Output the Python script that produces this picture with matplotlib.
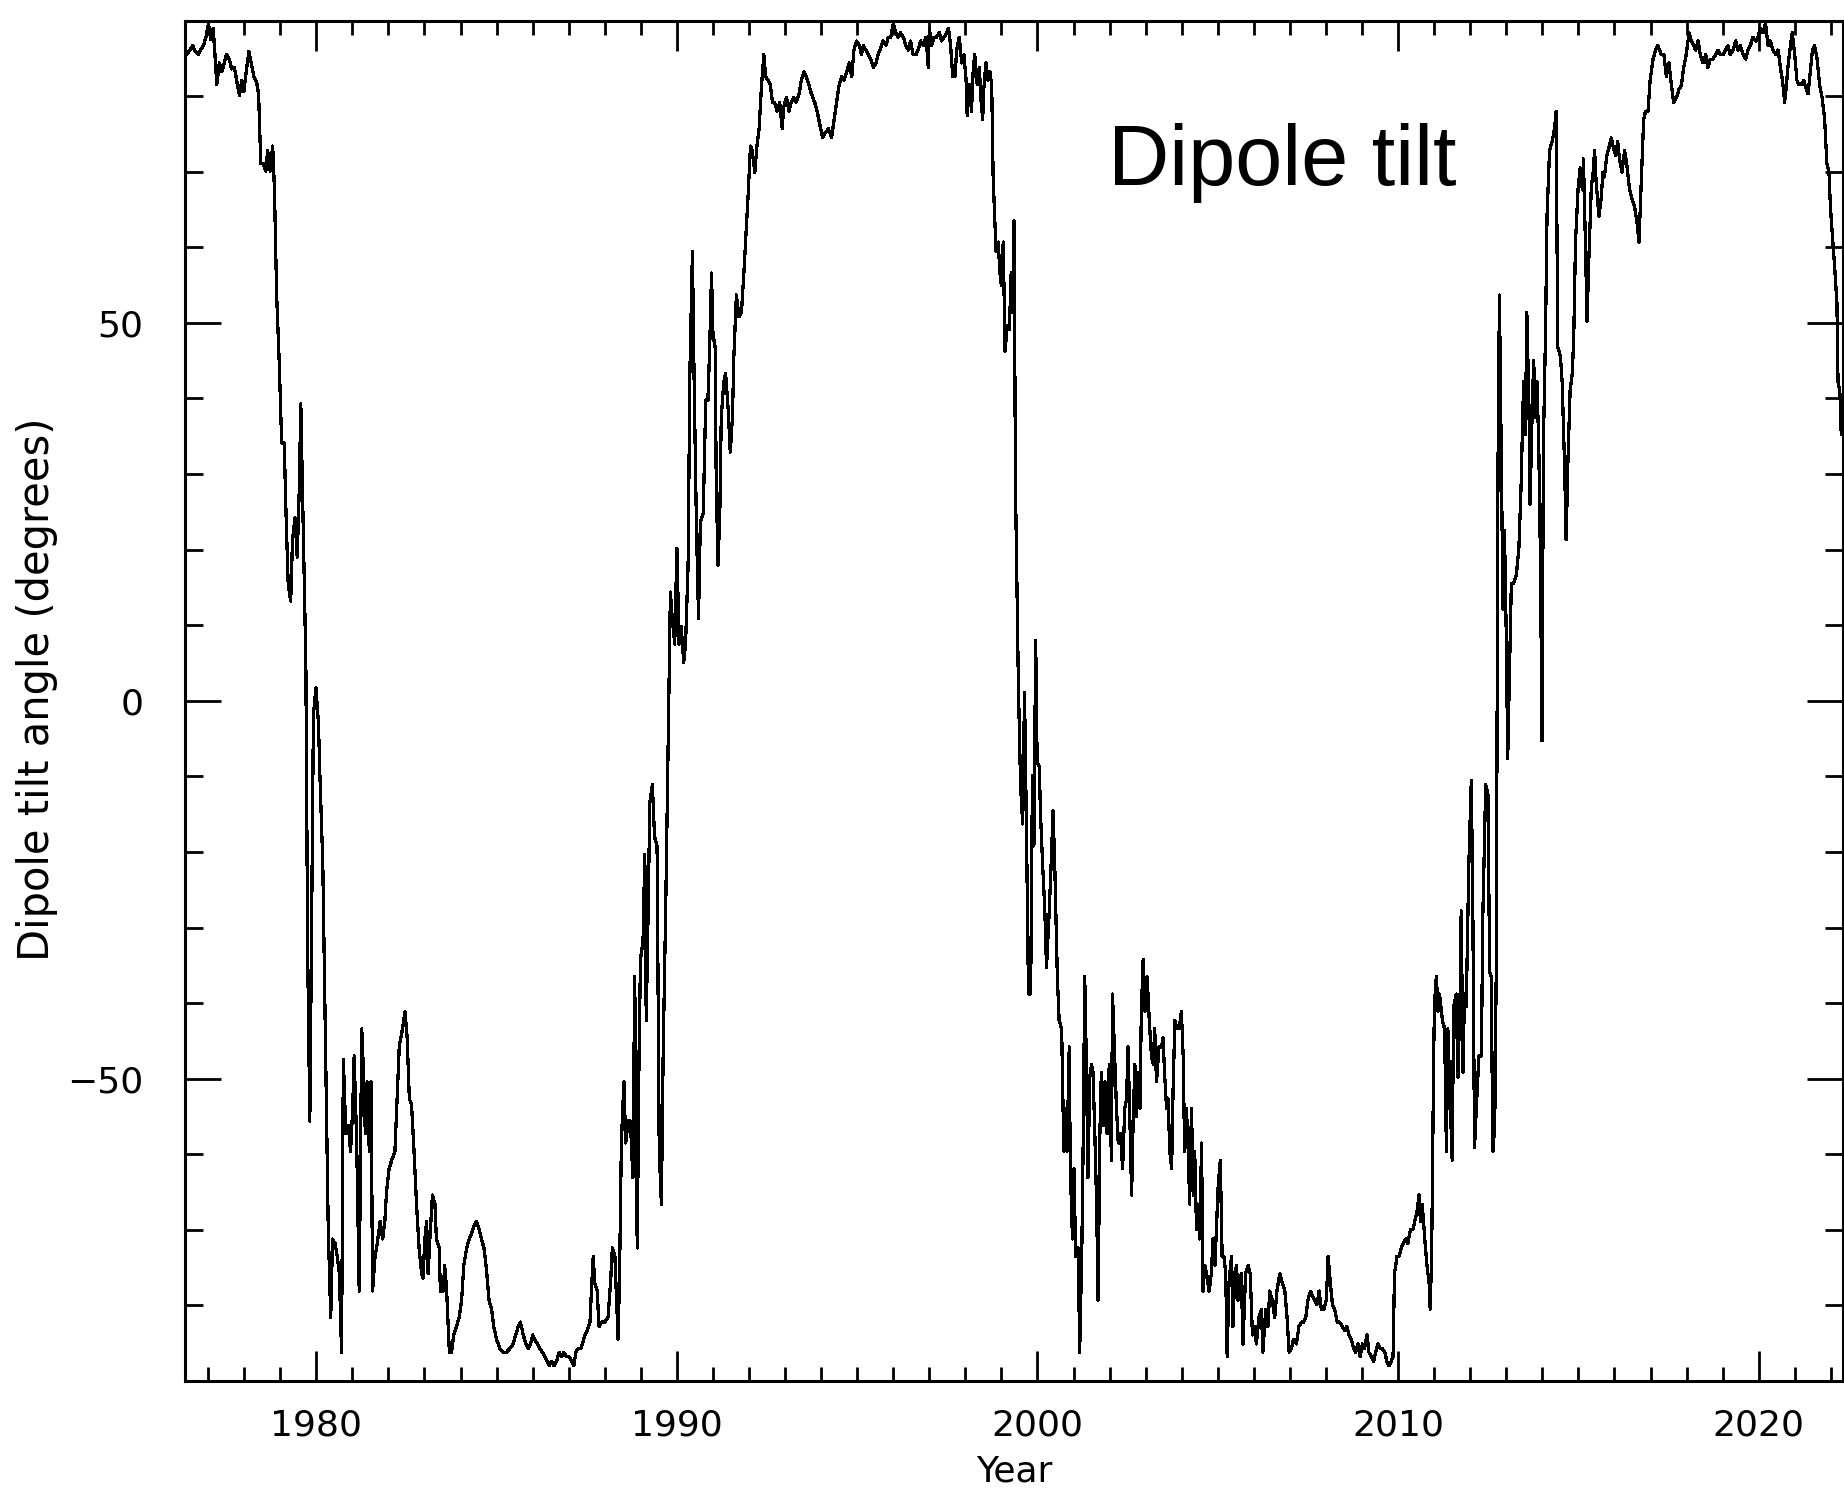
import numpy as np
import matplotlib
matplotlib.use("Agg")
import matplotlib.pyplot as plt
from matplotlib.ticker import MultipleLocator

# Dipole tilt angle of the solar magnetic field (degrees), one sample per
# Carrington rotation, grouped by span of years.
years_1976 = [1976.40, 1976.50, 1976.57, 1976.64, 1976.73, 1976.79, 1976.87, 1976.94,
              1977.01, 1977.07, 1977.14, 1977.19, 1977.24, 1977.31, 1977.38, 1977.45,
              1977.51, 1977.59, 1977.65, 1977.73, 1977.79, 1977.87, 1977.93, 1977.99,
              1978.07, 1978.13, 1978.21, 1978.27, 1978.35, 1978.40, 1978.46, 1978.53,
              1978.60, 1978.65, 1978.72, 1978.79, 1978.84, 1978.90, 1978.97, 1979.04,
              1979.11, 1979.16, 1979.22, 1979.29, 1979.34, 1979.41, 1979.47, 1979.53,
              1979.57, 1979.64, 1979.71, 1979.76, 1979.82, 1979.87, 1979.92, 1979.99,
              1980.06, 1980.10, 1980.18, 1980.24, 1980.33, 1980.40, 1980.45, 1980.52,
              1980.58, 1980.64, 1980.70, 1980.75, 1980.82, 1980.89, 1980.95, 1981.01,
              1981.05, 1981.12, 1981.19, 1981.26, 1981.30, 1981.36, 1981.41, 1981.47,
              1981.52, 1981.56, 1981.63, 1981.69, 1981.77, 1981.84, 1981.90, 1981.95,
              1982.02, 1982.09, 1982.18, 1982.23, 1982.30]
tilt_1976 = [85.5, 86.1, 86.7, 85.9, 85.5, 86.1, 86.7, 87.8,
             89.6, 87.5, 89.0, 85.5, 81.5, 84.4, 83.2, 84.4,
             85.5, 84.9, 83.6, 83.8, 82.1, 80.1, 82.1, 80.6,
             83.8, 85.9, 84.0, 82.6, 81.7, 80.3, 71.1, 71.1,
             70.1, 72.8, 70.1, 73.4, 67.6, 53.7, 45.0, 34.1,
             34.1, 24.8, 15.5, 13.2, 21.3, 24.2, 19.0, 28.3,
             39.3, 22.5, 5.1, -33.0, -55.6, -29.6, -1.8, 1.7,
             -3.0, -9.9, -21.5, -40.6, -69.5, -81.6, -71.2, -71.8,
             -73.5, -75.8, -86.2, -47.5, -57.3, -56.2, -59.6, -53.9,
             -47.0, -58.5, -78.1, -43.4, -48.1, -57.3, -50.4, -59.6,
             -50.4, -78.1, -73.5, -71.8, -68.9, -71.2, -68.9, -64.8,
             -61.9, -60.8, -59.6, -53.9, -45.8]

years_1982 = [1982.32, 1982.39, 1982.46, 1982.52, 1982.58, 1982.64, 1982.71, 1982.78,
              1982.85, 1982.92, 1982.96, 1983.01, 1983.06, 1983.10, 1983.15, 1983.22,
              1983.29, 1983.33, 1983.41, 1983.44, 1983.52, 1983.56, 1983.61, 1983.69,
              1983.75, 1983.81, 1983.89, 1983.96, 1984.03, 1984.09, 1984.17, 1984.24,
              1984.30, 1984.37, 1984.44, 1984.52, 1984.58, 1984.65, 1984.72, 1984.79,
              1984.86, 1984.92, 1985.00, 1985.09, 1985.18, 1985.27, 1985.37, 1985.46,
              1985.53, 1985.60, 1985.66, 1985.74, 1985.81, 1985.88, 1985.94, 1986.00,
              1986.06, 1986.13, 1986.20, 1986.27, 1986.34, 1986.40, 1986.46, 1986.52,
              1986.59, 1986.66, 1986.74, 1986.80, 1986.86, 1986.94, 1987.01, 1987.08,
              1987.14, 1987.20, 1987.26, 1987.33, 1987.38, 1987.45, 1987.51, 1987.59,
              1987.63, 1987.68, 1987.72, 1987.79, 1987.84, 1987.91, 1988.00, 1988.09]
tilt_1982 = [-45.2, -43.4, -41.1, -44.6, -52.7, -53.3, -59.6, -66.6,
             -72.4, -75.8, -76.4, -71.2, -68.9, -75.8, -71.2, -65.4,
             -66.6, -71.2, -72.4, -78.1, -78.1, -74.7, -77.6, -86.2,
             -86.2, -83.9, -82.8, -81.6, -79.3, -74.7, -72.4, -71.2,
             -70.6, -69.5, -68.9, -70.0, -71.2, -72.4, -75.3, -79.3,
             -80.5, -82.8, -84.5, -85.7, -86.2, -86.2, -85.7, -85.1,
             -83.9, -82.8, -82.2, -83.9, -85.1, -85.7, -85.1, -83.9,
             -84.5, -85.1, -85.7, -86.2, -86.8, -87.4, -88.0, -87.4,
             -88.0, -87.4, -86.2, -86.8, -86.2, -86.8, -86.8, -87.4,
             -88.0, -86.2, -85.7, -85.7, -85.1, -83.9, -83.3, -82.2,
             -78.1, -73.5, -77.0, -78.1, -82.8, -82.2, -82.2, -81.6]

years_1988 = [1988.16, 1988.21, 1988.28, 1988.37, 1988.41, 1988.46, 1988.53, 1988.58,
              1988.65, 1988.71, 1988.78, 1988.83, 1988.90, 1988.95, 1988.99, 1989.06,
              1989.11, 1989.15, 1989.20, 1989.25, 1989.32, 1989.38, 1989.45, 1989.51,
              1989.57, 1989.62, 1989.69, 1989.75, 1989.82, 1989.87, 1989.94, 1990.00,
              1990.06, 1990.12, 1990.19, 1990.24, 1990.31, 1990.36, 1990.43, 1990.48,
              1990.54, 1990.60, 1990.65, 1990.73, 1990.80, 1990.86, 1990.91, 1990.96,
              1991.00, 1991.06, 1991.09, 1991.14, 1991.19, 1991.23, 1991.30, 1991.35,
              1991.42, 1991.48, 1991.54, 1991.58, 1991.65, 1991.72, 1991.79, 1991.85,
              1991.91, 1991.97, 1992.04, 1992.09, 1992.16, 1992.22, 1992.28, 1992.34,
              1992.41, 1992.46, 1992.53, 1992.59, 1992.65, 1992.71, 1992.78, 1992.85,
              1992.92, 1992.96, 1993.04, 1993.11, 1993.17, 1993.24, 1993.31, 1993.39,
              1993.45, 1993.52, 1993.59, 1993.66, 1993.73, 1993.82, 1993.89, 1993.96]
tilt_1988 = [-77.0, -72.4, -73.5, -84.5, -75.8, -58.5, -50.4, -58.5,
             -55.6, -55.6, -63.1, -36.5, -72.4, -47.0, -34.2, -31.9,
             -20.3, -42.3, -28.4, -13.4, -11.1, -18.0, -19.2, -59.6,
             -66.6, -46.3, -27.3, -7.6, 14.4, 10.9, 7.5, 20.2,
             7.5, 9.8, 5.1, 7.5, 17.9, 43.3, 59.5, 41.6,
             23.7, 10.9, 23.7, 24.8, 39.8, 39.8, 46.8, 56.6,
             48.5, 46.8, 29.4, 17.9, 24.8, 37.5, 42.2, 43.3,
             38.7, 32.9, 37.5, 45.6, 53.7, 50.8, 51.4, 56.0,
             61.2, 66.4, 73.4, 72.8, 69.9, 73.4, 75.7, 80.9,
             85.5, 82.6, 82.1, 81.5, 79.2, 79.2, 78.0, 79.2,
             75.7, 78.6, 79.8, 78.0, 79.2, 79.8, 79.2, 80.3,
             82.1, 83.2, 82.6, 81.5, 80.3, 79.2, 78.0, 76.3]

years_1994 = [1994.04, 1994.11, 1994.20, 1994.29, 1994.36, 1994.43, 1994.50, 1994.57,
              1994.63, 1994.71, 1994.78, 1994.85, 1994.91, 1994.98, 1995.06, 1995.12,
              1995.17, 1995.24, 1995.31, 1995.37, 1995.45, 1995.52, 1995.58, 1995.65,
              1995.72, 1995.80, 1995.86, 1995.93, 1996.00, 1996.07, 1996.14, 1996.20,
              1996.28, 1996.35, 1996.42, 1996.48, 1996.55, 1996.63, 1996.69, 1996.76,
              1996.83, 1996.91, 1996.97, 1997.00, 1997.06, 1997.13, 1997.20, 1997.28,
              1997.34, 1997.41, 1997.48, 1997.53, 1997.59, 1997.65, 1997.71, 1997.76,
              1997.83, 1997.90, 1997.96, 1998.02, 1998.05, 1998.11, 1998.17, 1998.22,
              1998.26, 1998.33, 1998.39, 1998.42, 1998.48, 1998.51, 1998.57, 1998.63,
              1998.68, 1998.73, 1998.77, 1998.85, 1998.91, 1998.96, 1999.00, 1999.05,
              1999.10, 1999.16, 1999.22, 1999.27, 1999.31, 1999.35, 1999.39, 1999.47,
              1999.53, 1999.59, 1999.64, 1999.70, 1999.75]
tilt_1994 = [74.5, 75.1, 75.7, 74.5, 76.9, 79.2, 81.5, 82.6,
             82.1, 83.2, 84.4, 82.6, 86.1, 87.3, 86.7, 85.5,
             86.7, 86.1, 85.5, 84.9, 83.8, 84.4, 85.5, 86.3,
             87.3, 86.7, 87.8, 87.8, 89.6, 88.4, 87.8, 88.4,
             87.8, 86.7, 86.1, 87.3, 85.5, 85.5, 86.1, 87.3,
             86.7, 87.8, 83.8, 89.0, 86.7, 87.8, 87.8, 88.4,
             87.3, 87.8, 88.4, 89.0, 86.7, 82.6, 82.6, 86.1,
             87.8, 84.4, 85.5, 82.1, 77.4, 81.5, 78.0, 83.8,
             85.5, 81.5, 83.8, 80.3, 76.9, 80.9, 84.4, 82.1,
             83.2, 81.5, 69.3, 59.5, 60.7, 56.6, 54.9, 60.7,
             46.2, 49.7, 49.1, 56.6, 51.4, 63.5, 28.3, 2.2,
             -11.1, -16.3, 1.1, -19.2, -38.8]

years_1999 = [1999.81, 1999.86, 1999.90, 1999.95, 1999.99, 2000.05, 2000.08, 2000.14,
              2000.20, 2000.25, 2000.32, 2000.39, 2000.43, 2000.48, 2000.55, 2000.60,
              2000.67, 2000.73, 2000.76, 2000.82, 2000.88, 2000.91, 2000.97, 2001.01,
              2001.06, 2001.13, 2001.17, 2001.23, 2001.27, 2001.31, 2001.36, 2001.40,
              2001.45, 2001.50, 2001.54, 2001.59, 2001.64, 2001.68, 2001.73, 2001.77,
              2001.82, 2001.87, 2001.93, 2001.99, 2002.05, 2002.08, 2002.14, 2002.19,
              2002.24, 2002.30, 2002.36, 2002.42, 2002.47, 2002.51, 2002.56, 2002.61,
              2002.65, 2002.70, 2002.74, 2002.79, 2002.84, 2002.88, 2002.93, 2002.98,
              2003.04, 2003.10, 2003.16, 2003.21, 2003.25, 2003.30, 2003.37, 2003.44,
              2003.48, 2003.53, 2003.58, 2003.62, 2003.67, 2003.72, 2003.76, 2003.81,
              2003.87, 2003.93, 2003.99, 2004.04, 2004.08, 2004.13, 2004.18, 2004.22,
              2004.27, 2004.32, 2004.36, 2004.41, 2004.45, 2004.50, 2004.55, 2004.59,
              2004.64, 2004.69, 2004.76, 2004.82, 2004.87, 2004.92, 2004.96, 2005.01,
              2005.07, 2005.12, 2005.17, 2005.22, 2005.26, 2005.31, 2005.38, 2005.42,
              2005.47, 2005.52, 2005.56]
tilt_1999 = [-38.8, -9.9, -19.2, 8.0, -8.2, -8.7, -14.5, -21.5,
             -27.3, -35.3, -28.4, -20.3, -14.5, -22.0, -36.5, -42.3,
             -43.4, -59.6, -53.9, -59.6, -45.8, -61.9, -71.2, -61.9,
             -73.5, -72.4, -86.2, -72.4, -57.3, -36.5, -49.2, -63.1,
             -49.8, -48.1, -49.2, -57.3, -66.6, -79.3, -57.3, -49.2,
             -56.2, -50.4, -57.3, -48.1, -60.8, -38.8, -47.0, -53.9,
             -58.5, -57.3, -61.9, -53.9, -52.7, -45.8, -55.0, -65.4,
             -56.2, -48.1, -55.0, -49.2, -53.9, -41.1, -34.2, -41.1,
             -36.5, -42.3, -47.0, -48.1, -43.4, -50.4, -45.8, -45.8,
             -44.6, -49.8, -53.9, -52.7, -59.6, -61.9, -51.5, -42.3,
             -43.4, -43.4, -41.1, -47.0, -59.6, -53.9, -59.6, -66.6,
             -53.9, -65.4, -59.6, -70.0, -66.6, -71.2, -58.5, -78.1,
             -74.7, -75.8, -78.1, -75.8, -71.2, -74.7, -70.0, -64.3,
             -60.8, -73.5, -73.5, -75.8, -86.8, -77.0, -73.5, -82.8,
             -75.8, -74.7, -79.3]

years_2005 = [2005.65, 2005.70, 2005.77, 2005.84, 2005.90, 2005.96, 2006.02, 2006.07,
              2006.14, 2006.21, 2006.25, 2006.33, 2006.39, 2006.44, 2006.51, 2006.58,
              2006.64, 2006.72, 2006.79, 2006.86, 2006.92, 2006.98, 2007.04, 2007.10,
              2007.18, 2007.25, 2007.32, 2007.38, 2007.44, 2007.50, 2007.57, 2007.62,
              2007.69, 2007.75, 2007.81, 2007.87, 2007.94, 2008.01, 2008.06, 2008.12,
              2008.18, 2008.24, 2008.31, 2008.38, 2008.45, 2008.52, 2008.58, 2008.64,
              2008.70, 2008.77, 2008.82, 2008.89, 2008.95, 2009.01, 2009.07, 2009.14,
              2009.19, 2009.26, 2009.32, 2009.38, 2009.44, 2009.51, 2009.56, 2009.63,
              2009.69, 2009.75, 2009.81, 2009.86, 2009.90, 2009.97, 2010.03, 2010.09,
              2010.14, 2010.21, 2010.27, 2010.34, 2010.41, 2010.46, 2010.52, 2010.58,
              2010.62, 2010.67, 2010.74, 2010.80, 2010.86, 2010.89, 2010.93, 2010.99,
              2011.01, 2011.06, 2011.11, 2011.15, 2011.23, 2011.29, 2011.34, 2011.38]
tilt_2005 = [-75.8, -85.1, -75.8, -74.7, -75.8, -83.9, -82.8, -85.1,
             -81.6, -80.5, -86.2, -80.5, -82.8, -78.1, -79.3, -81.6,
             -78.1, -75.8, -77.0, -78.1, -81.6, -86.2, -85.7, -84.5,
             -85.1, -82.8, -82.2, -82.2, -81.6, -79.3, -78.1, -78.7,
             -79.3, -79.9, -78.1, -80.5, -80.5, -79.3, -73.5, -77.0,
             -79.9, -80.5, -82.2, -82.2, -82.8, -83.3, -82.8, -83.9,
             -84.5, -85.7, -86.2, -85.1, -86.8, -85.1, -85.7, -83.9,
             -86.2, -86.8, -87.4, -86.2, -85.1, -85.7, -85.7, -86.2,
             -87.4, -88.0, -87.4, -86.8, -75.8, -73.5, -73.5, -72.4,
             -71.8, -71.2, -71.8, -70.0, -70.0, -68.9, -67.7, -65.4,
             -68.9, -66.6, -71.2, -74.7, -77.0, -80.5, -73.5, -45.8,
             -40.0, -36.5, -41.1, -38.8, -42.3, -43.4, -59.6, -43.4]

years_2011 = [2011.50, 2011.54, 2011.61, 2011.66, 2011.72, 2011.75, 2011.80, 2011.84,
              2011.89, 2011.96, 2012.03, 2012.07, 2012.12, 2012.17, 2012.24, 2012.31,
              2012.35, 2012.43, 2012.49, 2012.54, 2012.58, 2012.63, 2012.68, 2012.72,
              2012.77, 2012.81, 2012.86, 2012.91, 2012.95, 2013.00, 2013.04, 2013.09,
              2013.14, 2013.20, 2013.28, 2013.35, 2013.41, 2013.48, 2013.53, 2013.57,
              2013.63, 2013.66, 2013.72, 2013.76, 2013.81, 2013.85, 2013.90, 2013.95,
              2013.99, 2014.03, 2014.09, 2014.13, 2014.20, 2014.27, 2014.34, 2014.38,
              2014.43, 2014.50, 2014.55, 2014.62, 2014.66, 2014.71, 2014.77, 2014.83,
              2014.87, 2014.92, 2014.99, 2015.05, 2015.11, 2015.14, 2015.20, 2015.24,
              2015.29, 2015.36, 2015.40, 2015.45, 2015.49, 2015.57, 2015.63, 2015.68,
              2015.72, 2015.79, 2015.86, 2015.91, 2015.96, 2016.03, 2016.09, 2016.14,
              2016.21, 2016.28, 2016.34, 2016.42, 2016.49, 2016.56, 2016.62, 2016.68,
              2016.74, 2016.81, 2016.86, 2016.93, 2016.99, 2017.07, 2017.14, 2017.20]
tilt_2011 = [-60.8, -40.5, -38.8, -49.8, -38.8, -27.8, -49.2, -38.8,
             -40.5, -22.0, -10.5, -26.1, -59.1, -53.9, -47.0, -47.0,
             -28.4, -11.1, -12.2, -35.9, -36.5, -59.6, -56.2, -36.5,
             30.6, 53.7, 32.9, 12.1, 22.5, 8.6, -7.6, 4.0,
             15.5, 15.5, 16.7, 20.2, 28.3, 42.2, 35.2, 51.4,
             38.7, 26.0, 38.7, 45.0, 37.5, 42.2, 34.1, 17.9,
             -5.3, 34.1, 49.1, 64.1, 72.8, 74.0, 75.7, 78.0,
             46.8, 45.6, 42.2, 30.6, 21.3, 31.7, 41.0, 43.3,
             47.9, 60.7, 67.6, 70.5, 67.6, 71.7, 59.5, 50.2,
             58.4, 68.2, 69.3, 72.8, 68.8, 64.1, 66.4, 69.9,
             69.3, 72.2, 73.4, 74.5, 73.4, 72.2, 74.0, 71.7,
             69.9, 72.8, 71.1, 67.6, 66.4, 65.3, 63.5, 60.7,
             68.2, 76.9, 78.0, 78.0, 82.1, 84.9, 86.1, 86.7]

years_2017 = [2017.30, 2017.37, 2017.44, 2017.51, 2017.58, 2017.64, 2017.72, 2017.79,
              2017.86, 2017.92, 2017.99, 2018.07, 2018.13, 2018.20, 2018.25, 2018.32,
              2018.38, 2018.46, 2018.53, 2018.59, 2018.66, 2018.73, 2018.81, 2018.87,
              2018.94, 2019.01, 2019.08, 2019.15, 2019.21, 2019.29, 2019.36, 2019.43,
              2019.49, 2019.57, 2019.64, 2019.70, 2019.77, 2019.84, 2019.92, 2019.98,
              2020.05, 2020.12, 2020.19, 2020.26, 2020.32, 2020.40, 2020.47, 2020.54,
              2020.60, 2020.66, 2020.72, 2020.77, 2020.81, 2020.88, 2020.93, 2021.00,
              2021.06, 2021.12, 2021.18, 2021.25, 2021.32, 2021.37, 2021.43, 2021.49,
              2021.55, 2021.62, 2021.69, 2021.76, 2021.83, 2021.89, 2021.95, 2021.99,
              2022.04, 2022.11, 2022.17, 2022.20, 2022.25, 2022.29]
tilt_2017 = [85.5, 85.5, 82.6, 84.4, 81.5, 79.2, 79.8, 80.9,
             81.5, 83.8, 85.5, 88.4, 87.3, 86.7, 86.1, 87.3,
             85.5, 84.4, 85.5, 83.8, 84.9, 84.9, 85.5, 86.1,
             85.5, 85.5, 86.1, 86.7, 85.5, 86.1, 87.3, 86.1,
             86.7, 85.5, 84.9, 86.1, 86.7, 87.8, 87.3, 87.8,
             89.0, 88.4, 89.6, 86.7, 87.3, 86.1, 85.5, 86.1,
             83.8, 82.1, 79.2, 81.5, 83.8, 86.7, 88.4, 85.5,
             82.1, 81.5, 81.5, 82.1, 80.9, 80.3, 83.2, 86.1,
             86.7, 84.9, 81.5, 79.8, 76.9, 71.1, 69.9, 65.3,
             61.8, 57.2, 52.6, 42.2, 41.0, 35.2]

year = np.concatenate([years_1976, years_1982, years_1988, years_1994,
                       years_1999, years_2005, years_2011, years_2017])
tilt = np.concatenate([tilt_1976, tilt_1982, tilt_1988, tilt_1994,
                       tilt_1999, tilt_2005, tilt_2011, tilt_2017])

W, H = 1844, 1493
fig = plt.figure(figsize=(W / 100, H / 100), dpi=100)
fig.patch.set_facecolor("white")

left, right, top, bottom = 185.4, 1842.7, 20.6, 1381.0
ax = fig.add_axes([left / W, 1 - bottom / H, (right - left) / W, (bottom - top) / H])

ax.plot(year, tilt, color="black", lw=1.6, antialiased=False)

ax.set_xlim(1976.37, 2022.33)
ax.set_ylim(-90, 90)

ax.xaxis.set_major_locator(MultipleLocator(10))
ax.xaxis.set_minor_locator(MultipleLocator(1))
ax.yaxis.set_major_locator(MultipleLocator(50))
ax.yaxis.set_minor_locator(MultipleLocator(10))

for s in ax.spines.values():
    s.set_linewidth(2.2)

ax.tick_params(axis="x", which="both", direction="in", top=True, bottom=True,
               width=2.0, color="black")
ax.tick_params(axis="x", which="major", length=21.5, pad=20)
ax.tick_params(axis="x", which="minor", length=10)
ax.tick_params(axis="y", which="both", direction="in", left=True, right=True,
               width=2.0, color="black")
ax.tick_params(axis="y", which="major", length=26, pad=30)
ax.tick_params(axis="y", which="minor", length=13)

ax.set_xticks([1980, 1990, 2000, 2010, 2020])
ax.set_xticklabels(["1980", "1990", "2000", "2010", "2020"],
                   family="DejaVu Sans", fontsize=26)
ax.set_yticks([-50, 0, 50])
ax.set_yticklabels(["\u2212" + "50", "0", "50"], family="DejaVu Sans", fontsize=26)

fig.text(37 / W, 1 - 689 / H, "Dipole tilt angle (degrees)", rotation=90,
         ha="center", va="center", family="DejaVu Sans", fontsize=30)
fig.text((left + right) / 2 / W, 1 - 1455 / H, "Year", ha="center", va="top",
         family="DejaVu Sans", fontsize=26)
fig.text(1108 / W, 1 - 185 / H, "Dipole tilt", ha="left", va="baseline",
         family="Liberation Sans", fontsize=61)

fig.savefig("out.png", dpi=100, facecolor="white")
